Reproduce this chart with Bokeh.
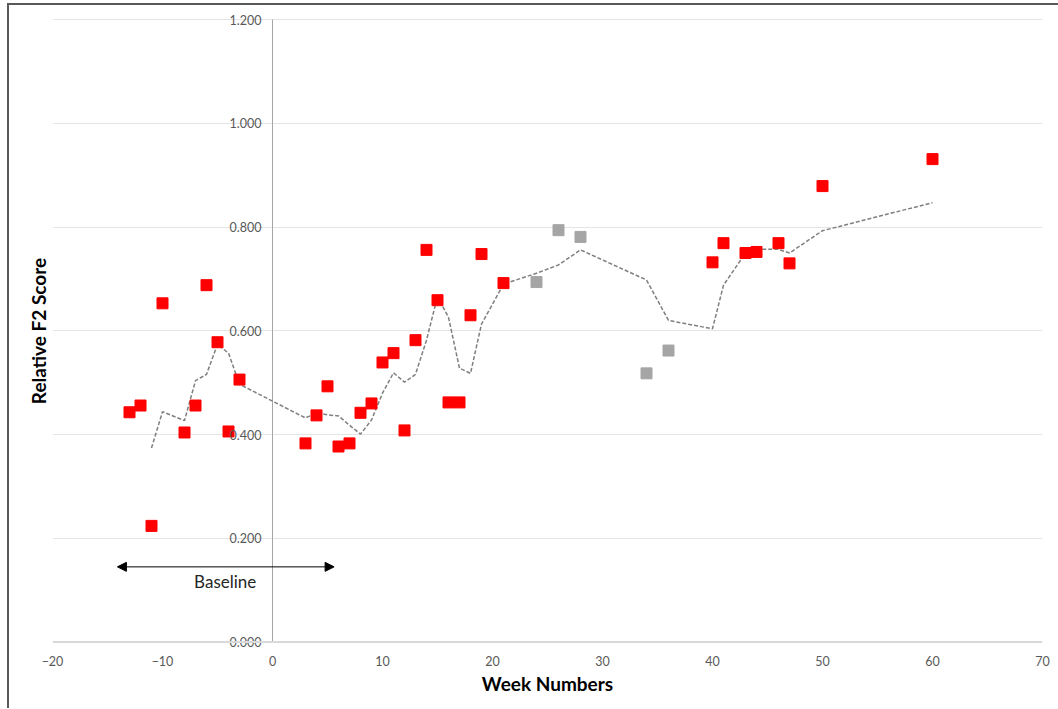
from bokeh.plotting import figure
from bokeh.models import (LinearAxis, FixedTicker, PrintfTickFormatter, Arrow,
                          NormalHead, Label, Span)
from bokeh.embed import file_html
from bokeh.resources import INLINE

# ---- data ----
red_weeks = [-13, -12, -11, -10, -8, -7, -6, -5, -4, -3,
             3, 4, 5, 6, 7, 8, 9, 10, 11, 12, 13, 14, 15, 16, 17, 18, 19, 21,
             40, 41, 43, 44, 46, 47, 50, 60]
red_scores = [0.443, 0.456, 0.224, 0.653, 0.404, 0.456, 0.688, 0.578, 0.406, 0.506,
              0.383, 0.437, 0.493, 0.377, 0.383, 0.442, 0.460, 0.539, 0.557, 0.408,
              0.582, 0.756, 0.659, 0.462, 0.462, 0.630, 0.748, 0.692,
              0.732, 0.769, 0.750, 0.752, 0.769, 0.730, 0.879, 0.931]

gray_weeks = [24, 26, 28, 34, 36]
gray_scores = [0.694, 0.794, 0.781, 0.518, 0.562]

# 3-point moving-average trend line
trend_weeks = [-11, -10, -8, -7, -6, -5, -4, -3, 3, 4, 5, 6, 7, 8, 9, 10, 11, 12,
               13, 14, 15, 16, 17, 18, 19, 21, 24, 26, 28, 34, 36, 40, 41, 43, 44,
               46, 47, 50, 60]
trend_scores = [0.374, 0.444, 0.427, 0.504, 0.516, 0.574, 0.557, 0.497, 0.432,
                0.442, 0.438, 0.436, 0.418, 0.401, 0.428, 0.480, 0.519, 0.501,
                0.516, 0.582, 0.666, 0.626, 0.528, 0.518, 0.613, 0.690, 0.711,
                0.727, 0.756, 0.698, 0.620, 0.604, 0.688, 0.750, 0.757, 0.757,
                0.750, 0.793, 0.847]

x_ticks = [-20, -10, 0, 10, 20, 30, 40, 50, 60, 70]
y_ticks = [0.0, 0.2, 0.4, 0.6, 0.8, 1.0, 1.2]

FONT = "Lato"

p = figure(width=1051, height=705, x_range=(-20, 70), y_range=(-0.022, 1.2213),
           output_backend="svg", toolbar_location=None,
           min_border_left=43, min_border_right=18, min_border_top=3,
           min_border_bottom=57)
p.outline_line_color = None
p.background_fill_color = "white"
p.border_fill_color = "white"
p.styles = {"margin-left": "7px", "margin-top": "3px",
            "border-left": "2px solid #595959", "border-top": "2px solid #595959"}

# gridlines
p.xgrid.visible = False
p.ygrid.ticker = FixedTicker(ticks=y_ticks[1:])
p.ygrid.grid_line_color = "#e4e4e4"
p.ygrid.grid_line_width = 1

# horizontal axis line at y = 0
p.add_layout(Span(location=y_ticks[0], dimension="width", line_color="#d9d9d9",
                  line_width=2))
# vertical axis line at x = 0 (between first and last y tick)
p.segment(x0=[0], y0=[y_ticks[0]], x1=[0], y1=[y_ticks[-1]],
          line_color="#a6a6a6", line_width=1)

# x axis (labels + title)
xa = p.xaxis[0]
xa.ticker = FixedTicker(ticks=x_ticks)
xa.axis_line_color = None
xa.major_tick_line_color = None
xa.minor_tick_line_color = None
xa.major_tick_out = 0
xa.major_tick_in = 0
xa.major_label_standoff = 2
xa.major_label_text_font = FONT
xa.major_label_text_font_size = "12.5px"
xa.major_label_text_color = "#595959"
xa.axis_label = "Week Numbers"
xa.axis_label_text_font = FONT
xa.axis_label_text_font_style = "bold"
xa.axis_label_text_font_size = "19px"
xa.axis_label_text_color = "#000000"
xa.axis_label_standoff = 3

# left axis: title only
ya = p.yaxis[0]
ya.ticker = FixedTicker(ticks=[])
ya.axis_line_color = None
ya.major_tick_line_color = None
ya.minor_tick_line_color = None
ya.major_tick_out = 0
ya.major_tick_in = 0
ya.major_label_standoff = 0
ya.axis_label = "Relative F2 Score"
ya.axis_label_text_font = FONT
ya.axis_label_text_font_style = "bold"
ya.axis_label_text_font_size = "19px"
ya.axis_label_text_color = "#000000"
ya.axis_label_standoff = 3

# vertical axis tick labels placed at x = 0
ya0 = LinearAxis(fixed_location=0, ticker=FixedTicker(ticks=y_ticks),
                 formatter=PrintfTickFormatter(format="%.3f"))
ya0.axis_line_color = None
ya0.major_tick_line_color = None
ya0.minor_tick_line_color = None
ya0.major_tick_out = 0
ya0.major_tick_in = 0
ya0.major_label_standoff = 11
ya0.major_label_text_font = FONT
ya0.major_label_text_font_size = "12.5px"
ya0.major_label_text_color = "#595959"
p.add_layout(ya0, "left")

# trend line and points
p.line(trend_weeks, trend_scores, line_color="#7f7f7f", line_width=1.5,
       line_dash="4 2")
p.scatter(gray_weeks, gray_scores, marker="square", size=11,
          fill_color="#a5a5a5", line_color="#a5a5a5")
p.scatter(red_weeks, red_scores, marker="square", size=11,
          fill_color="#ff0000", line_color="#ff0000")

# baseline annotation
p.add_layout(Arrow(start=NormalHead(size=9, fill_color="black", line_color="black"),
                   end=NormalHead(size=9, fill_color="black", line_color="black"),
                   x_start=-14.1, y_start=0.145, x_end=5.6, y_end=0.145,
                   line_color="black", line_width=1))
p.add_layout(Label(x=-4.3, y=0.117, text="Baseline", text_align="center",
                   text_baseline="middle", text_font=FONT, text_font_size="17px",
                   text_color="#262626"))

open("out.html", "w").write(file_html(p, INLINE))
